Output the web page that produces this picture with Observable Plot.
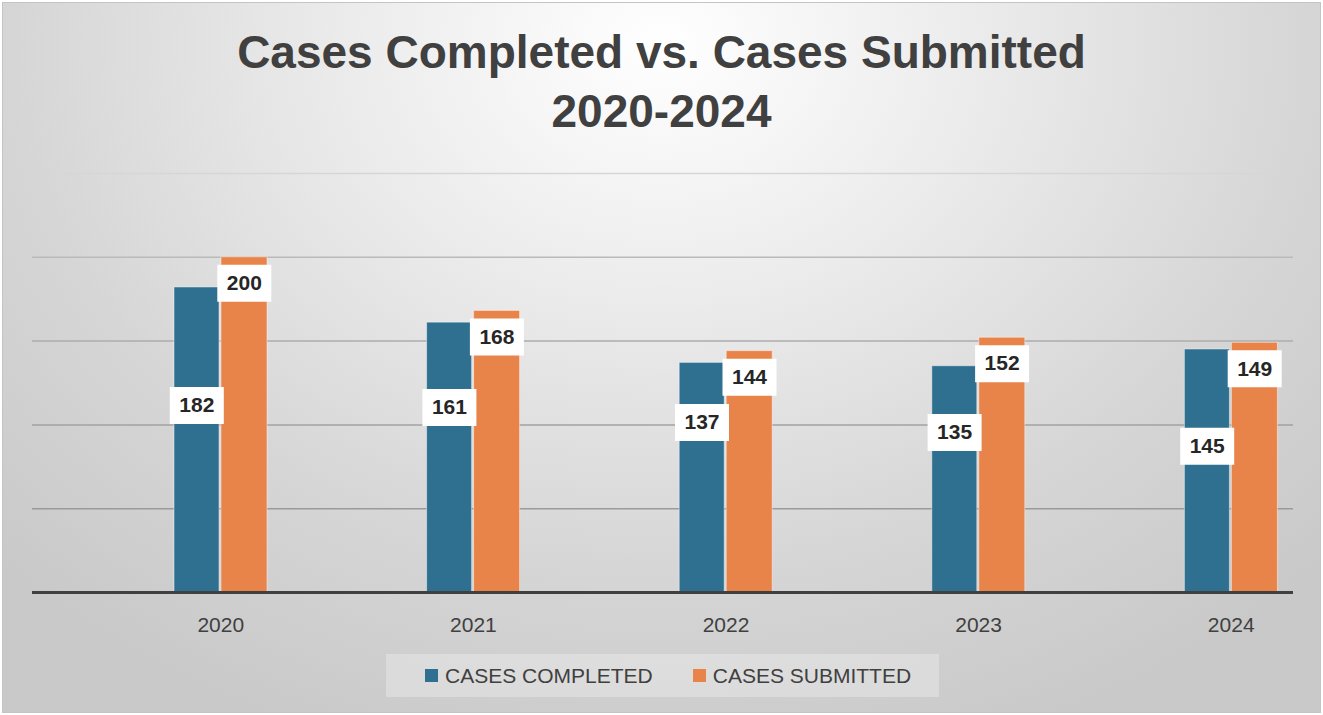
<!DOCTYPE html>
<html>
<head>
<meta charset="utf-8">
<script src="https://cdn.jsdelivr.net/npm/d3@7"></script>
<script src="https://cdn.jsdelivr.net/npm/@observablehq/plot@0.6"></script>
<style>
  html, body { margin: 0; padding: 0; background: #fff; }
  #chart {
    position: relative; width: 1319px; height: 711px; margin: 2px;
    border: 1px solid #c4c4c4; box-sizing: border-box;
    background: radial-gradient(ellipse 70% 105% at 50% 6%, #ffffff 0%, #ebebeb 35%, #d6d6d6 70%, #c9c9c9 100%);
    font-family: "Liberation Sans", Arial, sans-serif; overflow: hidden;
  }
  #title {
    position: absolute; left: 0; top: 20px; width: 100%; text-align: center;
    font-weight: bold; font-size: 46px; line-height: 59px; color: #404040;
  }
  #plot { position: absolute; left: -2px; top: 148px; width: 1323px; height: 500px; }
  #plot svg { max-width: none !important; }
  #legend {
    position: absolute; left: 383px; top: 651px; width: 553px; height: 43px;
    background: rgba(255,255,255,0.28); display: flex; align-items: center;
    font-size: 21px; color: #404040;
  }
  .sw { display: inline-block; width: 13px; height: 13px; margin-right: 7px; }
  .item { display: flex; align-items: center; }
</style>
</head>
<body>
<div id="chart">
  <div id="title">Cases Completed vs. Cases Submitted<br>2020-2024</div>
  <div id="plot"></div>
  <div id="legend"></div>
</div>
<script>
const years = ["2020", "2021", "2022", "2023", "2024"];
const casesCompleted = [182, 161, 137, 135, 145];
const casesSubmitted = [200, 168, 144, 152, 149];
const seriesNames = ["CASES COMPLETED", "CASES SUBMITTED"];
const seriesColors = ["#2F7090", "#E8834A"];
const gridValues = [50, 100, 150, 200, 250];

// where the (manually placed) completed-case labels sit, in data units
const completedLabelAt = [111.6, 110.4, 101.5, 95.5, 87.2];

const completed = years.map((y, i) => ({year: y, value: casesCompleted[i], labelAt: completedLabelAt[i]}));
const submitted = years.map((y, i) => ({year: y, value: casesSubmitted[i]}));

const gridColor = {50: "#9a9a9a", 100: "#a2a2a2", 150: "#acacac", 200: "#bababa", 250: "#d6d6d6"};

const boxSymbol = {draw(ctx) { ctx.rect(-27, -18.5, 54, 37); }};

const chart = Plot.plot({
  width: 1323,
  height: 500,
  marginLeft: 31,
  marginRight: 31,
  marginTop: 22,
  marginBottom: 59,
  style: {background: "transparent", fontFamily: "Liberation Sans, Arial, sans-serif", maxWidth: "none"},
  x: {type: "band", domain: years, range: [93, 1356], padding: 0, round: false},
  y: {domain: [0, 250]},
  marks: [
    Plot.ruleY(gridValues, {stroke: d => gridColor[d], strokeWidth: 1.5}),
    Plot.barY(completed, {x: "year", y: "value", fill: seriesColors[0], insetLeft: 80, insetRight: 127.6,
      stroke: "#ffffff", strokeOpacity: 0.45, strokeWidth: 1}),
    Plot.barY(submitted, {x: "year", y: "value", fill: seriesColors[1], insetLeft: 127, insetRight: 79.6,
      stroke: "#ffffff", strokeOpacity: 0.45, strokeWidth: 1}),
    Plot.ruleY([0], {stroke: "#404040", strokeWidth: 3}),
    Plot.dot(completed, {x: "year", y: "labelAt", dx: -24, symbol: boxSymbol, fill: "white", stroke: "none"}),
    Plot.text(completed, {x: "year", y: "labelAt", dx: -24, text: d => String(d.value),
      fontSize: 21, fontWeight: "bold", fill: "#262626"}),
    Plot.dot(submitted, {x: "year", y: "value", dx: 23.5, dy: 26, symbol: boxSymbol, fill: "white", stroke: "none"}),
    Plot.text(submitted, {x: "year", y: "value", dx: 23.5, dy: 26, text: d => String(d.value),
      fontSize: 21, fontWeight: "bold", fill: "#262626"}),
    Plot.axisX({tickSize: 0, tickPadding: 25, fontSize: 21, color: "#404040", label: null}),
    Plot.axisY({ticks: [], label: null, tickSize: 0})
  ]
});
document.getElementById("plot").appendChild(chart);

const legend = document.getElementById("legend");
seriesNames.forEach((name, i) => {
  const item = document.createElement("div");
  item.className = "item";
  item.style.marginLeft = i === 0 ? "39px" : "40px";
  const sw = document.createElement("span");
  sw.className = "sw";
  sw.style.background = seriesColors[i];
  item.appendChild(sw);
  item.appendChild(document.createTextNode(name));
  legend.appendChild(item);
});
</script>
</body>
</html>
